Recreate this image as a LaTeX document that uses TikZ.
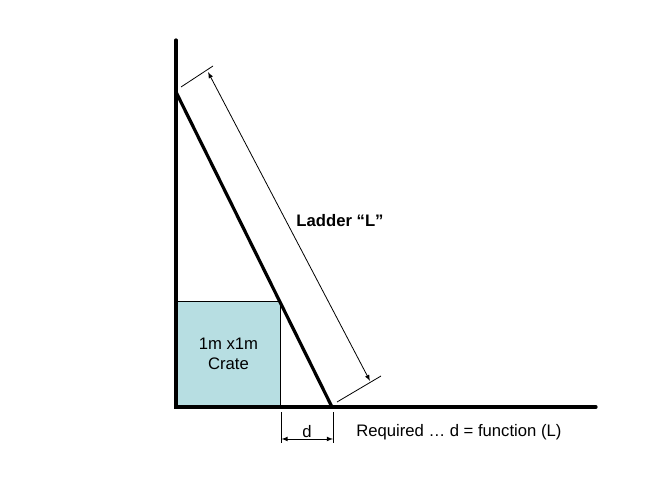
\documentclass[tikz,border=0pt]{standalone}
\usepackage{fontspec}
\setmainfont{Liberation Sans}
\usetikzlibrary{calc,positioning,arrows}
\definecolor{cratecol}{HTML}{B7DEE2}

\begin{document}
\begin{tikzpicture}[x=0.75pt,y=-0.75pt, heavy/.style={line width=2.4pt,line cap=round}, thin/.style={line width=0.6pt}, dim/.style={thin,<->,>=latex,shorten <=0pt,shorten >=0pt}, txt/.style={font=\fontsize{12.5}{15}\selectfont,inner sep=0pt}]
              \useasboundingbox (0,0) rectangle (666,500);
              \coordinate (wtop) at (176,40);
              \coordinate (o) at (176,407);
              \coordinate (fend) at (596,407);
              \coordinate (ltop) at (176,92);
              \coordinate (lfoot) at (332,407);

              \node[fill=cratecol,draw=black,thin,anchor=south west,minimum width=78pt,minimum height=78.75pt,inner sep=0pt,align=center,txt] (crate) at (o) {1m x1m\\Crate};

              \draw[heavy] (wtop) -- (o) -- (fend);
              \draw[heavy] (ltop) -- (lfoot);

              % ladder length
              \coordinate (e1a) at (181,87);
              \coordinate (e1b) at (213,66);
              \coordinate (e2a) at (337,402);
              \coordinate (e2b) at (381,376);
              \draw[thin] (e1a) -- (e1b);
              \draw[thin] (e2a) -- (e2b);
              \coordinate (p1) at (208,72);
              \coordinate (p2) at (370,381);
              \draw[dim] (p1) -- (p2);
              \node[txt,font=\fontsize{12.5}{15}\selectfont\bfseries] (ladder) at (340,221) {Ladder “L”};

              % gap d
              \coordinate (d1a) at (281.5,412);
              \coordinate (d1b) at (281.5,443);
              \coordinate (d2a) at (333,412);
              \coordinate (d2b) at (333,443);
              \draw[thin] (d1a) -- (d1b);
              \draw[thin] (d2a) -- (d2b);
              \draw[dim] ($(d1a)!0.87!(d1b)$) -- ($(d2a)!0.87!(d2b)$);
              \node[txt] (d) at (307,432) {d};
              \node[txt,anchor=west] (req) at (356,432) {Required … d = function (L)};
            \end{tikzpicture}
\end{document}
